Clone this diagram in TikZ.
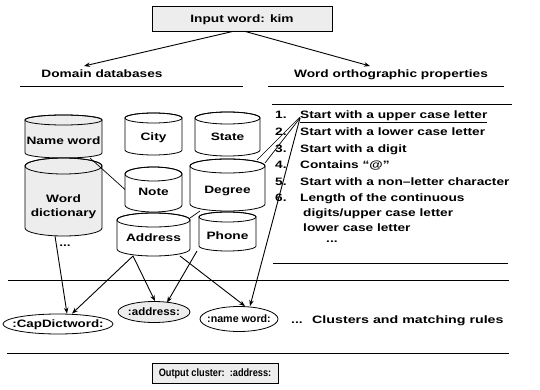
\documentclass[tikz,border=0pt]{standalone}
\usepackage{fontspec}
\setmainfont{Liberation Sans}
\usetikzlibrary{arrows.meta,shapes.geometric}

% text set a little wider than the font's natural shape
\newcommand{\wide}[2][1.28]{\scalebox{#1}[1]{#2}}

\tikzset{
  lab/.style={font=\fontsize{10.7}{12}\selectfont\bfseries, inner sep=0pt},
  txt/.style={lab, text height=7.7pt, text depth=0pt},
  grain/.style={fill=black!7},
  box/.style={draw, line width=0.8pt, grain, txt},
  cyl/.style={line width=0.8pt},
  dbnode/.style={rectangle, inner sep=0pt, outer sep=0pt},
  cl/.style={ellipse, draw, line width=0.8pt, txt},
  link/.style={line width=0.7pt},
  flow/.style={line width=0.9pt, -{Stealth[length=6pt,width=4.5pt]}},
  rule/.style={line width=1pt},
}

% database cylinder: name, centre x, top y, bottom y, x radius, y radius, fill, label y, label
\newcommand{\dbcyl}[9]{%
  \path[cyl, draw, #7] (#2-#5,-#3) -- (#2-#5,-#4)
     arc[start angle=180, end angle=360, x radius=#5, y radius=#6]
     -- (#2+#5,-#3)
     arc[start angle=0, end angle=180, x radius=#5, y radius=#6] -- cycle;
  \draw[cyl] (#2,-#3) ellipse[x radius=#5, y radius=#6];
  \node[dbnode, minimum width={2*#5}, minimum height={#4-#3+2*#6}]
     (#1) at (#2,{-(#3+#4)/2}) {};
  \node[txt] (#1-t) at (#2,-#8) {\wide{#9}};
}

\begin{document}
\begin{tikzpicture}[x=1pt,y=1pt]
\useasboundingbox[fill=white] (0,0) rectangle (540,-390);

% input and the two branches
\node[box, minimum width=180pt, minimum height=25pt] (in) at (242,-18.5) {\wide{Input word: kim}};
\node[txt] (hdL) at (102,-74) {\wide{Domain databases}};
\node[txt] (hdR) at (391,-74) {\wide{Word orthographic properties}};
\coordinate (tipL) at (84,-66);
\coordinate (tipR) at (370,-66);
\draw[flow] ([xshift=-9]in.south) -- (tipL);
\draw[flow] ([xshift=3]in.south) -- (tipR);

% rules
\coordinate (rLa) at (20,-87);  \coordinate (rLb) at (243,-87);
\coordinate (rRa) at (268,-87); \coordinate (rRb) at (504,-87);
\coordinate (lTa) at (272,-105); \coordinate (lTb) at (512,-105);
\coordinate (lBa) at (273,-263); \coordinate (lBb) at (508,-263);
\coordinate (mAa) at (8,-280);  \coordinate (mAb) at (509,-280);
\coordinate (mBa) at (7,-353);  \coordinate (mBb) at (509,-353);
\draw[rule] (rLa) -- (rLb);
\draw[rule] (rRa) -- (rRb);
\draw[rule] (lTa) -- (lTb);
\draw[rule] (lBa) -- (lBb);
\draw[rule] (mAa) -- (mAb);
\draw[rule] (mBa) -- (mBb);

% domain databases
\dbcyl{namew}{63.5}{120}{153}{38.5}{5}{grain}{141}{Name word}
\dbcyl{dict}{63.5}{166}{228}{38.5}{8}{grain}{199}{Word}
\node[txt] (dict-u) at (63.5,-213) {\wide{dictionary}};
\node[txt] (dict-m) at (65,-243) {\wide{...}};
\dbcyl{city}{153.5}{118}{150}{28.5}{5}{fill=white}{137}{City}
\dbcyl{state}{227.5}{118}{150}{32.5}{6}{fill=white}{137}{State}
\dbcyl{note}{153.5}{174}{205}{28.5}{7}{fill=white}{192}{Note}
\dbcyl{degree}{227.5}{166}{204}{37.5}{7}{fill=white}{190}{Degree}
\dbcyl{addr}{153.5}{220}{249}{36.5}{7}{fill=white}{238}{Address}
\dbcyl{phone}{227.5}{217}{246}{28.5}{5}{fill=white}{236}{Phone}

% orthographic properties
\node[txt, anchor=west] (n1) at (275,-115) {\wide{1.}};
\node[txt, anchor=west] (p1) at (300,-115) {\wide{\underline{Start with a upper case letter}}};
\node[txt, anchor=west] (n2) at (275,-131.6) {\wide{2.}};
\node[txt, anchor=west] (p2) at (300,-131.6) {\wide{Start with a lower case letter}};
\node[txt, anchor=west] (n3) at (275,-148.2) {\wide{3.}};
\node[txt, anchor=west] (p3) at (300,-148.2) {\wide{Start with a digit}};
\node[txt, anchor=west] (n4) at (275,-164.8) {\wide{4.}};
\node[txt, anchor=west] (p4) at (300,-164.8) {\wide{Contains “@”}};
\node[txt, anchor=west] (n5) at (275,-181.4) {\wide{5.}};
\node[txt, anchor=west] (p5) at (300,-181.4) {\wide{Start with a non–letter character}};
\node[txt, anchor=west] (n6) at (275,-198) {\wide{6.}};
\node[txt, anchor=west] (p6) at (300,-198) {\wide{Length of the continuous}};
\node[txt, anchor=west] (p6b) at (303,-213) {\wide{digits/upper case letter}};
\node[txt, anchor=west] (p6c) at (303,-228) {\wide{lower case letter}};
\node[txt, anchor=west] (pm) at (326,-239) {\wide{...}};

% clusters
\node[cl, minimum width=110pt, minimum height=20pt] (capd) at (58,-324) {\makebox[0pt]{\wide[1.25]{:CapDictword:}}};
\node[cl, grain, minimum width=72pt, minimum height=21pt] (addrc) at (154,-312) {\makebox[0pt]{\wide[1.08]{:address:}}};
\node[cl, minimum width=78pt, minimum height=25pt] (namec) at (239,-319) {\makebox[0pt]{\wide[1]{:name word:}}};
\node[txt, anchor=west] (more) at (291,-320) {\wide{...}};
\node[txt, anchor=west] (rules) at (312,-320) {\wide[1.33]{Clusters and matching rules}};

% output
\node[box, minimum width=126pt, minimum height=20pt] (out) at (215,-373) {\wide[0.86]{Output cluster:\ \ :address:}};

% links between databases and properties
\draw[link] ([xshift=26.5]namew.south) -- (note.west);
\draw[link] ([yshift=-5]addr.north east) -- ([xshift=-27.5]degree.south);
\draw[link] ([xshift=-8,yshift=-1]degree.north east) -- ([yshift=-2]p1.west);
\draw[link] ([yshift=-4]degree.north east) -- ([yshift=-3]p1.west);

% matching into clusters
\draw[flow] ([xshift=-8.5]dict.south) -- ([xshift=9]capd.north);
\draw[flow] ([xshift=-20.5]addr.south) -- ([xshift=14]capd.north);
\draw[flow] ([xshift=-20.5]addr.south) -- ([xshift=1]addrc.north);
\draw[flow] ([xshift=-30.5]phone.south) -- ([xshift=13,yshift=-1.5]addrc.north);
\draw[flow] ([xshift=26.5]addr.south) -- ([xshift=6]namec.north);
\draw[flow] ([yshift=-3]p1.west) -- ([xshift=11]namec.north);
\end{tikzpicture}
\end{document}
